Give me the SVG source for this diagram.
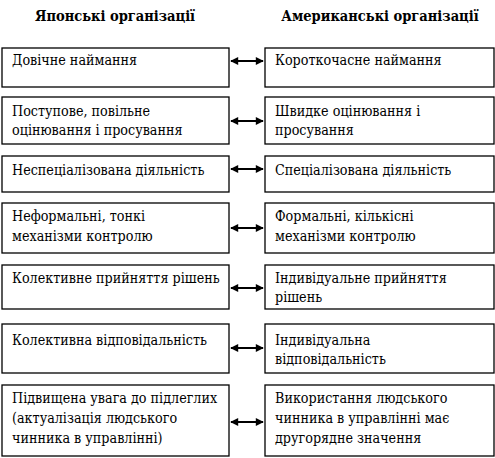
<svg xmlns="http://www.w3.org/2000/svg" width="495" height="458" viewBox="0 0 495 458">
<style>
.box{fill:#fff;stroke:#000;stroke-width:1.3}
.t{font-family:'DejaVu Serif Condensed','DejaVu Serif',serif;font-stretch:condensed;font-size:14.2px;fill:#000}
.h{font-family:'DejaVu Serif Condensed','DejaVu Serif',serif;font-stretch:condensed;font-size:14.5px;font-weight:bold;fill:#000;text-anchor:middle}
.c{stroke:#000;stroke-width:2;fill:none;marker-start:url(#a);marker-end:url(#a)}
</style>
<defs>
<marker id="a" viewBox="0 0 10 10" refX="9" refY="5" markerWidth="4.5" markerHeight="4" orient="auto-start-reverse" markerUnits="strokeWidth">
<path d="M0,0 L10,5 L0,10 z" fill="#000"/>
</marker>
</defs>
<rect width="495" height="458" fill="#fff"/>
<g id="headers">
<text class="h" x="115" y="21">Японські організації</text>
<text class="h" x="380" y="21">Американські організації</text>
</g>
<g id="j1"><rect class="box" x="2" y="48" width="227" height="39"/><text class="t" x="12" y="65">Довічне наймання</text></g>
<g id="a1"><rect class="box" x="265" y="48" width="229" height="39"/><text class="t" x="275" y="65">Короткочасне наймання</text></g>
<g id="j2"><rect class="box" x="2" y="97" width="227" height="47"/><text class="t" x="12" y="116">Поступове, повільне</text><text class="t" x="12" y="135">оцінювання і просування</text></g>
<g id="a2"><rect class="box" x="265" y="97" width="229" height="47"/><text class="t" x="275" y="116">Швидке оцінювання і</text><text class="t" x="275" y="135">просування</text></g>
<g id="j3"><rect class="box" x="2" y="156" width="227" height="36"/><text class="t" x="12" y="175">Неспеціалізована діяльність</text></g>
<g id="a3"><rect class="box" x="265" y="156" width="229" height="36"/><text class="t" x="275" y="175">Спеціалізована діяльність</text></g>
<g id="j4"><rect class="box" x="2" y="203" width="227" height="50"/><text class="t" x="12" y="221">Неформальні, тонкі</text><text class="t" x="12" y="241">механізми контролю</text></g>
<g id="a4"><rect class="box" x="265" y="203" width="229" height="50"/><text class="t" x="275" y="221">Формальні, кількісні</text><text class="t" x="275" y="241">механізми контролю</text></g>
<g id="j5"><rect class="box" x="2" y="265" width="227" height="44"/><text class="t" x="12" y="283">Колективне прийняття рішень</text></g>
<g id="a5"><rect class="box" x="265" y="265" width="229" height="44"/><text class="t" x="275" y="283">Індивідуальне прийняття</text><text class="t" x="275" y="302">рішень</text></g>
<g id="j6"><rect class="box" x="2" y="324" width="227" height="49"/><text class="t" x="12" y="345">Колективна відповідальність</text></g>
<g id="a6"><rect class="box" x="265" y="324" width="229" height="49"/><text class="t" x="275" y="345">Індивідуальна</text><text class="t" x="275" y="364">відповідальність</text></g>
<g id="j7"><rect class="box" x="2" y="385" width="227" height="71"/><text class="t" x="12" y="403">Підвищена увага до підлеглих</text><text class="t" x="12" y="423">(актуалізація людського</text><text class="t" x="12" y="443">чинника в управлінні)</text></g>
<g id="a7"><rect class="box" x="265" y="385" width="229" height="71"/><text class="t" x="275" y="403">Використання людського</text><text class="t" x="275" y="423">чинника в управлінні має</text><text class="t" x="275" y="443">другорядне значення</text></g>
<g id="connectors">
<line class="c" x1="231" y1="61" x2="263" y2="61"/>
<line class="c" x1="231" y1="121" x2="263" y2="121"/>
<line class="c" x1="231" y1="169" x2="263" y2="169"/>
<line class="c" x1="231" y1="228" x2="263" y2="228"/>
<line class="c" x1="231" y1="288" x2="263" y2="288"/>
<line class="c" x1="231" y1="348" x2="263" y2="348"/>
<line class="c" x1="231" y1="422" x2="263" y2="422"/>
</g>
</svg>
